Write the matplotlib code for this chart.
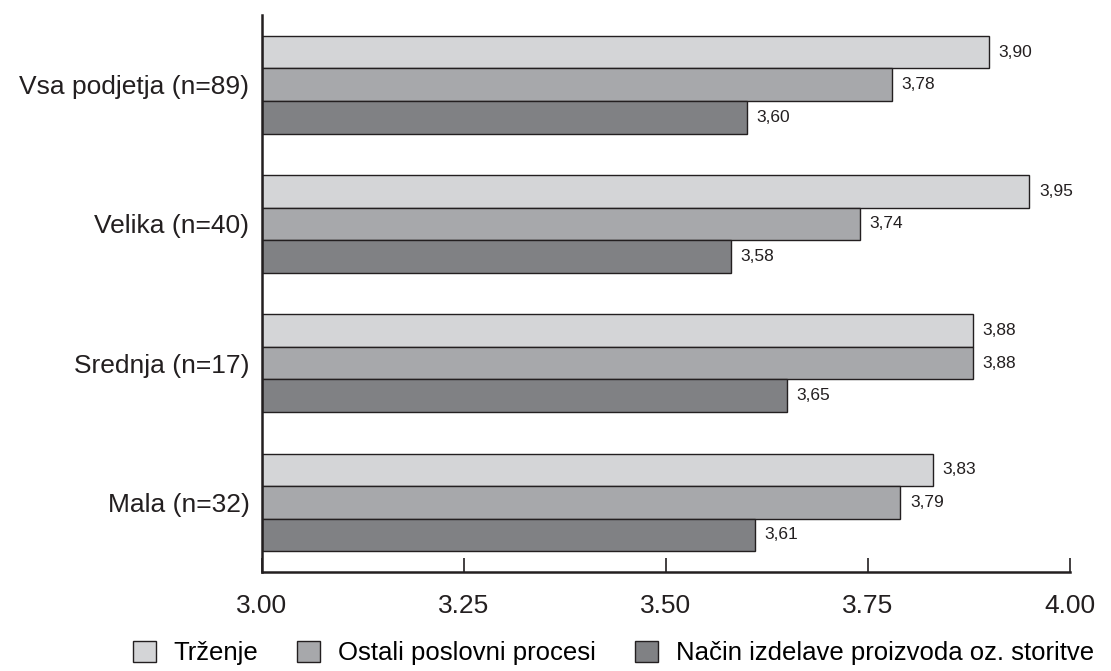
import numpy as np
import matplotlib.pyplot as plt

# podatki
skupine = ['Vsa podjetja (n=89)', 'Velika (n=40)', 'Srednja (n=17)', 'Mala (n=32)']
trzenje = [3.90, 3.95, 3.88, 3.83]
ostali = [3.78, 3.74, 3.88, 3.79]
nacin = [3.60, 3.58, 3.65, 3.61]
serije = ['Trženje', 'Ostali poslovni procesi', 'Način izdelave proizvoda oz. storitve']
barve = ['#d4d5d7', '#a7a8ab', '#808184']
xticks = [3.00, 3.25, 3.50, 3.75, 4.00]

plt.rcParams['font.family'] = ['Liberation Sans', 'DejaVu Sans']

fig = plt.figure(figsize=(11.11, 6.71), dpi=100)
ax = fig.add_axes([0.2358, 0.1475, 0.963 - 0.2358, 0.9776 - 0.1475])

y = np.arange(len(skupine))
h = 0.234
rob = '#231f20'

for i, (vals, ime, c) in enumerate(zip([trzenje, ostali, nacin], serije, barve)):
    pos = y + (i - 1) * h
    ax.barh(pos, np.array(vals) - 3.0, left=3.0, height=h, color=c,
            edgecolor=rob, linewidth=1.0, label=ime)
    for p, v in zip(pos, vals):
        ax.text(v + 0.012, p, f'{v:.2f}'.replace('.', ','), va='center', ha='left',
                fontsize=12.5, color=rob)

ax.set_xlim(3.0, 4.0)
ax.set_ylim(3.5, -0.5)
ax.set_xticks(xticks)
ax.set_xticklabels([f'{t:.2f}' for t in xticks])
ax.set_yticks(y)
ax.set_yticklabels(skupine)

ax.spines['right'].set_visible(False)
ax.spines['top'].set_visible(False)
ax.spines['left'].set_linewidth(1.8)
ax.spines['bottom'].set_linewidth(1.8)
ax.spines['left'].set_color(rob)
ax.spines['bottom'].set_color(rob)

ax.tick_params(axis='x', direction='in', length=10, width=1.2, color=rob,
               labelsize=19, pad=16, labelcolor=rob)
ax.tick_params(axis='y', length=0, labelsize=19, pad=9, labelcolor=rob)

fig.legend(loc='center', bbox_to_anchor=(0.552, 1 - 653 / 671), ncol=3,
           frameon=False, fontsize=18.5, handlelength=0.9, handleheight=0.9,
           handletextpad=0.7, columnspacing=1.5)

plt.savefig('out.png', dpi=100)
